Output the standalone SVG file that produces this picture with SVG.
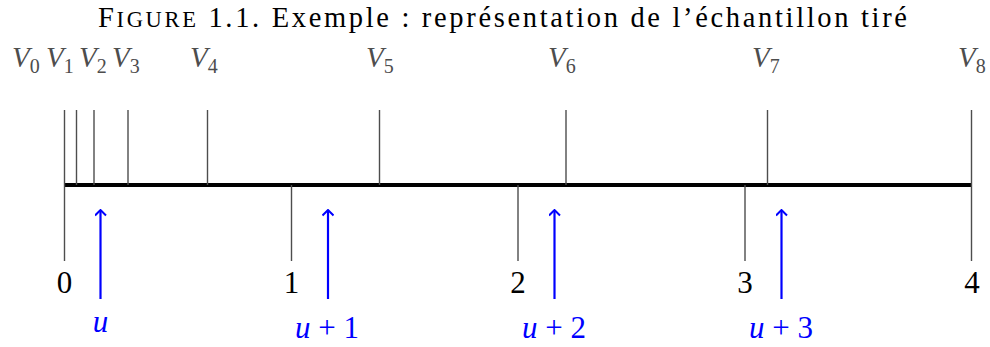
<svg xmlns="http://www.w3.org/2000/svg" width="990" height="347" viewBox="0 0 990 347">
<defs>
<style>
.title{font-size:28.5px;fill:#000}
.vlab{font-size:29px;font-style:italic;fill:#4d4d4d}
.sub{font-size:20px;font-style:normal}
.num{font-size:31px;fill:#000;text-anchor:middle}
.ulab{font-size:31px;fill:#0000ff;text-anchor:middle}
.it{font-style:italic}
.tick{stroke:#4d4d4d;stroke-width:1.4;fill:none}
.axis{stroke:#000;stroke-width:4;fill:none}
.arr{stroke:#0000ff;stroke-width:2.2;fill:none}
</style>
<marker id="hook" viewBox="0 0 12 12" refX="11" refY="6" markerWidth="12" markerHeight="12" markerUnits="userSpaceOnUse" orient="auto">
<path d="M5.5,0.5 L11,6 L5.5,11.5" stroke="#0000ff" stroke-width="2" fill="none"/>
</marker>
</defs>
<rect width="990" height="347" fill="#fff"/>
<g id="diagram" font-family="Liberation Serif, Times New Roman, DejaVu Serif, serif">
<g id="title">
<text class="title" x="98" y="27" textLength="809" lengthAdjust="spacing">F<tspan font-size="22.5">IGURE</tspan> 1.1.  Exemple : représentation de l’échantillon tiré</text>
</g>
<g id="axis">
<line class="axis" x1="64.5" y1="185" x2="972" y2="185"/>
</g>
<g id="upper-ticks">
<line class="tick" x1="64.5" y1="110" x2="64.5" y2="185"/>
<line class="tick" x1="76.5" y1="110" x2="76.5" y2="185"/>
<line class="tick" x1="94" y1="110" x2="94" y2="185"/>
<line class="tick" x1="128" y1="110" x2="128" y2="185"/>
<line class="tick" x1="207.5" y1="110" x2="207.5" y2="185"/>
<line class="tick" x1="379.5" y1="110" x2="379.5" y2="185"/>
<line class="tick" x1="566" y1="110" x2="566" y2="185"/>
<line class="tick" x1="767.5" y1="110" x2="767.5" y2="185"/>
<line class="tick" x1="971.5" y1="110" x2="971.5" y2="185"/>
</g>
<g id="lower-ticks">
<line class="tick" x1="64.5" y1="185" x2="64.5" y2="261"/>
<line class="tick" x1="291.5" y1="185" x2="291.5" y2="261"/>
<line class="tick" x1="518" y1="185" x2="518" y2="261"/>
<line class="tick" x1="745" y1="185" x2="745" y2="261"/>
<line class="tick" x1="971.5" y1="185" x2="971.5" y2="261"/>
</g>
<g id="v-labels">
<text class="vlab" x="12" y="67">V<tspan class="sub" dy="6">0</tspan></text>
<text class="vlab" x="46" y="67">V<tspan class="sub" dy="6">1</tspan></text>
<text class="vlab" x="79" y="67">V<tspan class="sub" dy="6">2</tspan></text>
<text class="vlab" x="112" y="67">V<tspan class="sub" dy="6">3</tspan></text>
<text class="vlab" x="190" y="67">V<tspan class="sub" dy="6">4</tspan></text>
<text class="vlab" x="366" y="67">V<tspan class="sub" dy="6">5</tspan></text>
<text class="vlab" x="548" y="67">V<tspan class="sub" dy="6">6</tspan></text>
<text class="vlab" x="752" y="67">V<tspan class="sub" dy="6">7</tspan></text>
<text class="vlab" x="958" y="67">V<tspan class="sub" dy="6">8</tspan></text>
</g>
<g id="numbers">
<text class="num" x="64.5" y="293">0</text>
<text class="num" x="291.5" y="293">1</text>
<text class="num" x="518" y="293">2</text>
<text class="num" x="745" y="293">3</text>
<text class="num" x="972" y="293">4</text>
</g>
<g id="connectors">
<line class="arr" x1="100.5" y1="299" x2="100.5" y2="210" marker-end="url(#hook)"/>
<line class="arr" x1="328" y1="299" x2="328" y2="210" marker-end="url(#hook)"/>
<line class="arr" x1="554.5" y1="299" x2="554.5" y2="210" marker-end="url(#hook)"/>
<line class="arr" x1="781.5" y1="299" x2="781.5" y2="210" marker-end="url(#hook)"/>
</g>
<g id="u-labels">
<text class="ulab" x="100.5" y="332"><tspan class="it">u</tspan></text>
<text class="ulab" x="327" y="338"><tspan class="it">u</tspan> + 1</text>
<text class="ulab" x="554" y="338"><tspan class="it">u</tspan> + 2</text>
<text class="ulab" x="781" y="338"><tspan class="it">u</tspan> + 3</text>
</g>
</g>
</svg>
